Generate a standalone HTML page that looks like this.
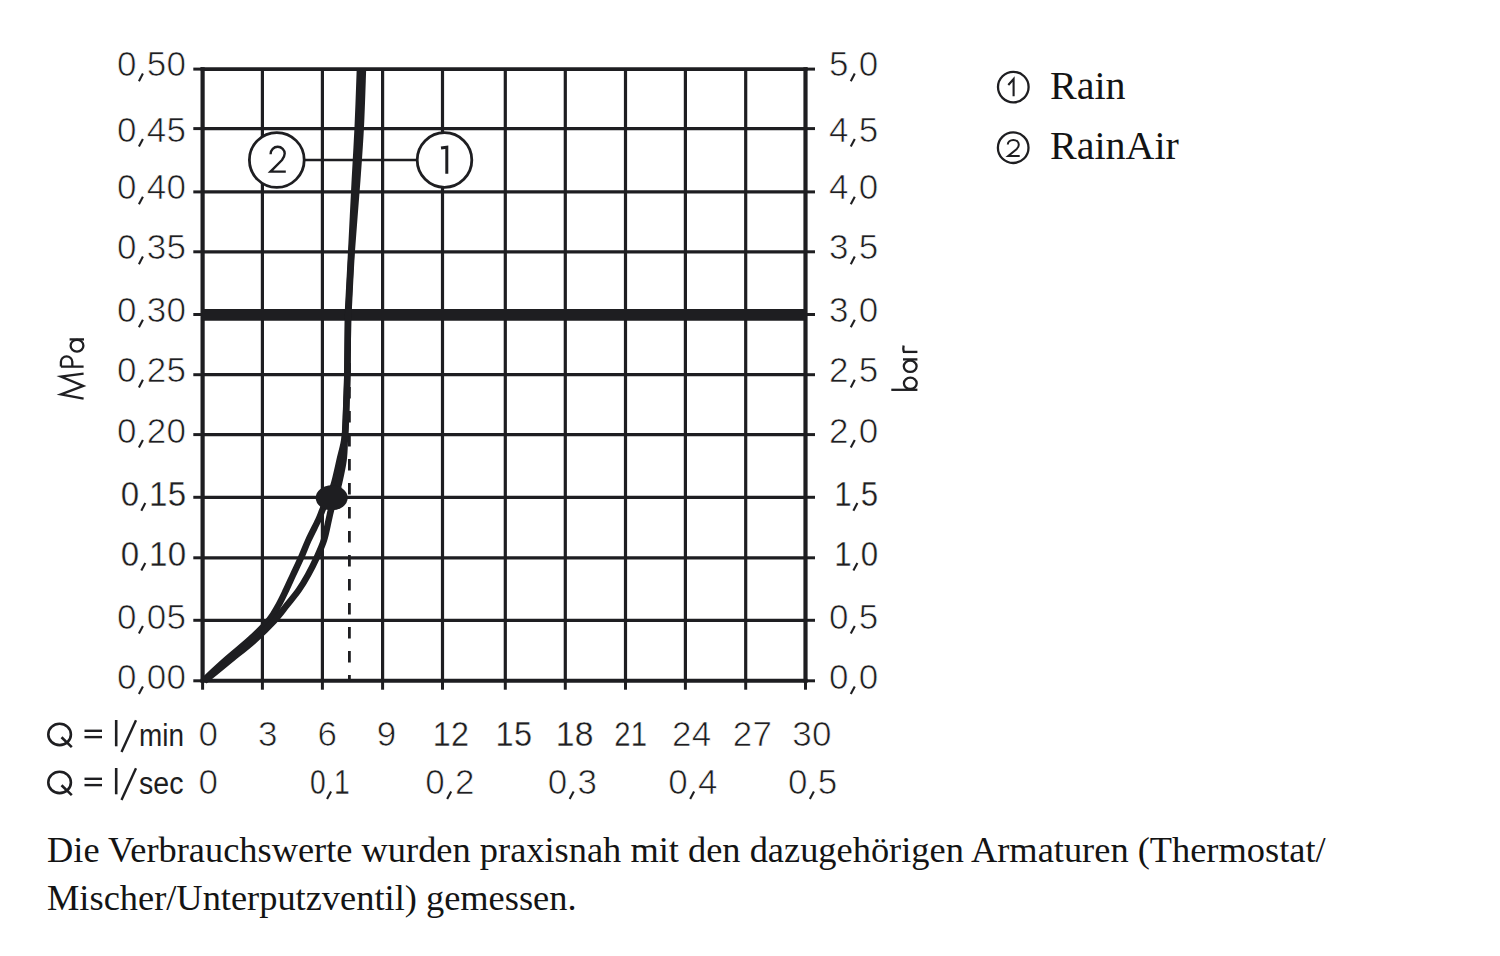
<!DOCTYPE html>
<html><head><meta charset="utf-8"><style>
html,body{margin:0;padding:0;background:#fff;width:1500px;height:956px;overflow:hidden}
svg{display:block}
.s{font-family:"Liberation Sans",sans-serif;fill:#1e1e21;stroke:#fff;stroke-width:0.7px;letter-spacing:0.3px}
.s2{font-family:"Liberation Sans",sans-serif;fill:#1e1e21}
.cm{fill:none;stroke:none}
.r{font-family:"Liberation Serif",serif;fill:#141414}
</style></head><body>
<svg width="1500" height="956" viewBox="0 0 1500 956">
<line x1="262.4" y1="69.1" x2="262.4" y2="680.8" stroke="#1e1e21" stroke-width="3.2"/>
<line x1="322.4" y1="69.1" x2="322.4" y2="680.8" stroke="#1e1e21" stroke-width="3.2"/>
<line x1="382.6" y1="69.1" x2="382.6" y2="680.8" stroke="#1e1e21" stroke-width="3.2"/>
<line x1="442.5" y1="69.1" x2="442.5" y2="680.8" stroke="#1e1e21" stroke-width="3.2"/>
<line x1="505.3" y1="69.1" x2="505.3" y2="680.8" stroke="#1e1e21" stroke-width="3.2"/>
<line x1="565.3" y1="69.1" x2="565.3" y2="680.8" stroke="#1e1e21" stroke-width="3.2"/>
<line x1="625.5" y1="69.1" x2="625.5" y2="680.8" stroke="#1e1e21" stroke-width="3.2"/>
<line x1="685.4" y1="69.1" x2="685.4" y2="680.8" stroke="#1e1e21" stroke-width="3.2"/>
<line x1="745.7" y1="69.1" x2="745.7" y2="680.8" stroke="#1e1e21" stroke-width="3.2"/>
<line x1="202.6" y1="128.6" x2="805.5" y2="128.6" stroke="#1e1e21" stroke-width="3.2"/>
<line x1="202.6" y1="191.9" x2="805.5" y2="191.9" stroke="#1e1e21" stroke-width="3.2"/>
<line x1="202.6" y1="251.8" x2="805.5" y2="251.8" stroke="#1e1e21" stroke-width="3.2"/>
<line x1="202.6" y1="374.7" x2="805.5" y2="374.7" stroke="#1e1e21" stroke-width="3.2"/>
<line x1="202.6" y1="434.6" x2="805.5" y2="434.6" stroke="#1e1e21" stroke-width="3.2"/>
<line x1="202.6" y1="497.3" x2="805.5" y2="497.3" stroke="#1e1e21" stroke-width="3.2"/>
<line x1="202.6" y1="557.8" x2="805.5" y2="557.8" stroke="#1e1e21" stroke-width="3.2"/>
<line x1="202.6" y1="620.3" x2="805.5" y2="620.3" stroke="#1e1e21" stroke-width="3.2"/>
<line x1="193.3" y1="69.1" x2="202.6" y2="69.1" stroke="#1e1e21" stroke-width="3"/>
<line x1="805.5" y1="69.1" x2="815" y2="69.1" stroke="#1e1e21" stroke-width="3"/>
<line x1="193.3" y1="128.6" x2="202.6" y2="128.6" stroke="#1e1e21" stroke-width="3"/>
<line x1="805.5" y1="128.6" x2="815" y2="128.6" stroke="#1e1e21" stroke-width="3"/>
<line x1="193.3" y1="191.9" x2="202.6" y2="191.9" stroke="#1e1e21" stroke-width="3"/>
<line x1="805.5" y1="191.9" x2="815" y2="191.9" stroke="#1e1e21" stroke-width="3"/>
<line x1="193.3" y1="251.8" x2="202.6" y2="251.8" stroke="#1e1e21" stroke-width="3"/>
<line x1="805.5" y1="251.8" x2="815" y2="251.8" stroke="#1e1e21" stroke-width="3"/>
<line x1="193.3" y1="314.5" x2="202.6" y2="314.5" stroke="#1e1e21" stroke-width="3"/>
<line x1="805.5" y1="314.5" x2="815" y2="314.5" stroke="#1e1e21" stroke-width="3"/>
<line x1="193.3" y1="374.7" x2="202.6" y2="374.7" stroke="#1e1e21" stroke-width="3"/>
<line x1="805.5" y1="374.7" x2="815" y2="374.7" stroke="#1e1e21" stroke-width="3"/>
<line x1="193.3" y1="434.6" x2="202.6" y2="434.6" stroke="#1e1e21" stroke-width="3"/>
<line x1="805.5" y1="434.6" x2="815" y2="434.6" stroke="#1e1e21" stroke-width="3"/>
<line x1="193.3" y1="497.3" x2="202.6" y2="497.3" stroke="#1e1e21" stroke-width="3"/>
<line x1="805.5" y1="497.3" x2="815" y2="497.3" stroke="#1e1e21" stroke-width="3"/>
<line x1="193.3" y1="557.8" x2="202.6" y2="557.8" stroke="#1e1e21" stroke-width="3"/>
<line x1="805.5" y1="557.8" x2="815" y2="557.8" stroke="#1e1e21" stroke-width="3"/>
<line x1="193.3" y1="620.3" x2="202.6" y2="620.3" stroke="#1e1e21" stroke-width="3"/>
<line x1="805.5" y1="620.3" x2="815" y2="620.3" stroke="#1e1e21" stroke-width="3"/>
<line x1="193.3" y1="680.8" x2="202.6" y2="680.8" stroke="#1e1e21" stroke-width="3"/>
<line x1="805.5" y1="680.8" x2="815" y2="680.8" stroke="#1e1e21" stroke-width="3"/>
<line x1="202.6" y1="680.8" x2="202.6" y2="689.7" stroke="#1e1e21" stroke-width="3"/>
<line x1="262.4" y1="680.8" x2="262.4" y2="689.7" stroke="#1e1e21" stroke-width="3"/>
<line x1="322.4" y1="680.8" x2="322.4" y2="689.7" stroke="#1e1e21" stroke-width="3"/>
<line x1="382.6" y1="680.8" x2="382.6" y2="689.7" stroke="#1e1e21" stroke-width="3"/>
<line x1="442.5" y1="680.8" x2="442.5" y2="689.7" stroke="#1e1e21" stroke-width="3"/>
<line x1="505.3" y1="680.8" x2="505.3" y2="689.7" stroke="#1e1e21" stroke-width="3"/>
<line x1="565.3" y1="680.8" x2="565.3" y2="689.7" stroke="#1e1e21" stroke-width="3"/>
<line x1="625.5" y1="680.8" x2="625.5" y2="689.7" stroke="#1e1e21" stroke-width="3"/>
<line x1="685.4" y1="680.8" x2="685.4" y2="689.7" stroke="#1e1e21" stroke-width="3"/>
<line x1="745.7" y1="680.8" x2="745.7" y2="689.7" stroke="#1e1e21" stroke-width="3"/>
<line x1="805.5" y1="680.8" x2="805.5" y2="689.7" stroke="#1e1e21" stroke-width="3"/>
<line x1="200.6" y1="69.1" x2="807.5" y2="69.1" stroke="#1e1e21" stroke-width="3.8"/>
<line x1="200.6" y1="680.8" x2="807.5" y2="680.8" stroke="#1e1e21" stroke-width="4"/>
<line x1="202.6" y1="67.3" x2="202.6" y2="682.5999999999999" stroke="#1e1e21" stroke-width="4.2"/>
<line x1="805.5" y1="67.3" x2="805.5" y2="682.5999999999999" stroke="#1e1e21" stroke-width="4.2"/>
<line x1="202.6" y1="314.8" x2="805.5" y2="314.8" stroke="#1e1e21" stroke-width="11.7"/>
<line x1="349.4" y1="315" x2="349.4" y2="681" stroke="#1e1e21" stroke-width="2.8" stroke-dasharray="11.5 12.5"/>
<line x1="304" y1="160" x2="417" y2="160" stroke="#1e1e21" stroke-width="2.5"/>
<circle cx="276.8" cy="160" r="27.4" fill="#fff" stroke="#1e1e21" stroke-width="2.8"/>
<circle cx="444.5" cy="160" r="27.3" fill="#fff" stroke="#1e1e21" stroke-width="2.8"/>
<path d="M270.6,154.2 C270.6,149.6 273.9,146.8 277.7,146.8 C281.7,146.8 284.7,149.8 284.7,153.6 C284.7,156.2 283.5,158 282,160 L270.5,171.6 L285.8,171.6" fill="none" stroke="#1e1e21" stroke-width="2.4" stroke-linejoin="miter"/>
<path d="M441,148 L446.8,147.2 L446.8,173.8" fill="none" stroke="#1e1e21" stroke-width="3" stroke-linejoin="miter"/>
<path d="M359.95,69.00 C359.58,78.67 358.60,108.50 357.75,127.00 C356.90,145.50 355.93,159.33 354.85,180.00 C353.77,200.67 352.35,229.83 351.25,251.00 C350.15,272.17 348.79,295.50 348.25,307.00 C347.71,318.50 348.16,308.67 348.00,320.00 C347.84,331.33 347.55,361.67 347.30,375.00 C347.05,388.33 346.88,390.00 346.50,400.00 C346.12,410.00 346.14,425.00 345.00,435.00 C343.86,445.00 341.54,451.67 339.65,460.00 C337.76,468.33 335.59,478.75 333.65,485.00 C331.71,491.25 329.88,493.33 328.00,497.50 C326.12,501.67 324.02,506.25 322.40,510.00 C320.78,513.75 320.62,515.00 318.30,520.00 C315.98,525.00 311.38,533.70 308.50,540.00 C305.62,546.30 303.58,551.97 301.00,557.80 C298.42,563.63 295.48,569.63 293.00,575.00 C290.52,580.37 288.50,585.00 286.10,590.00 C283.70,595.00 281.37,600.08 278.60,605.00 C275.83,609.92 274.18,613.83 269.50,619.50 C264.82,625.17 257.67,632.33 250.50,639.00 C243.33,645.67 234.33,652.58 226.50,659.50 C218.67,666.42 207.33,677.00 203.50,680.50" fill="none" stroke="#1e1e21" stroke-width="6.5" stroke-linecap="butt" stroke-linejoin="round"/>
<path d="M362.95,69.00 C362.58,78.67 361.70,108.50 360.75,127.00 C359.80,145.50 358.75,159.33 357.25,180.00 C355.75,200.67 353.17,229.83 351.75,251.00 C350.33,272.17 349.38,295.50 348.75,307.00 C348.12,318.50 348.24,308.67 348.00,320.00 C347.76,331.33 347.55,361.67 347.30,375.00 C347.05,388.33 346.88,390.00 346.50,400.00 C346.12,410.00 345.49,425.00 345.00,435.00 C344.51,445.00 344.62,451.67 343.55,460.00 C342.48,468.33 339.98,478.75 338.55,485.00 C337.12,491.25 336.26,493.33 335.00,497.50 C333.74,501.67 332.05,506.25 331.00,510.00 C329.95,513.75 329.87,515.00 328.70,520.00 C327.53,525.00 326.02,533.70 324.00,540.00 C321.98,546.30 319.27,551.97 316.60,557.80 C313.93,563.63 310.97,569.63 308.00,575.00 C305.03,580.37 302.30,585.00 298.80,590.00 C295.30,595.00 291.13,599.83 287.00,605.00 C282.87,610.17 279.58,615.00 274.00,621.00 C268.42,627.00 261.00,634.33 253.50,641.00 C246.00,647.67 237.17,654.33 229.00,661.00 C220.83,667.67 208.58,677.67 204.50,681.00" fill="none" stroke="#1e1e21" stroke-width="6.5" stroke-linecap="butt" stroke-linejoin="round"/>
<ellipse cx="331.7" cy="497.8" rx="16" ry="12.5" fill="#1e1e21"/>
<text x="186.4" y="76.2" font-size="35" text-anchor="end" class="s">0<tspan class="cm">,</tspan>50</text>
<text x="186.4" y="141.6" font-size="35" text-anchor="end" class="s">0<tspan class="cm">,</tspan>45</text>
<text x="186.4" y="199.3" font-size="35" text-anchor="end" class="s">0<tspan class="cm">,</tspan>40</text>
<text x="186.4" y="259.2" font-size="35" text-anchor="end" class="s">0<tspan class="cm">,</tspan>35</text>
<text x="186.4" y="322.3" font-size="35" text-anchor="end" class="s">0<tspan class="cm">,</tspan>30</text>
<text x="186.4" y="382.4" font-size="35" text-anchor="end" class="s">0<tspan class="cm">,</tspan>25</text>
<text x="186.4" y="442.6" font-size="35" text-anchor="end" class="s">0<tspan class="cm">,</tspan>20</text>
<text x="186.4" y="505.7" font-size="35" text-anchor="end" class="s" textLength="65.6" lengthAdjust="spacingAndGlyphs" style="stroke-width:0.35px">0<tspan class="cm">,</tspan>15</text>
<text x="186.4" y="565.5" font-size="35" text-anchor="end" class="s" textLength="65.6" lengthAdjust="spacingAndGlyphs" style="stroke-width:0.35px">0<tspan class="cm">,</tspan>10</text>
<text x="186.4" y="628.6" font-size="35" text-anchor="end" class="s">0<tspan class="cm">,</tspan>05</text>
<text x="186.4" y="689.1" font-size="35" text-anchor="end" class="s">0<tspan class="cm">,</tspan>00</text>
<text x="878.5" y="76.2" font-size="35" text-anchor="end" class="s">5<tspan class="cm">,</tspan>0</text>
<text x="878.5" y="141.6" font-size="35" text-anchor="end" class="s">4<tspan class="cm">,</tspan>5</text>
<text x="878.5" y="199.3" font-size="35" text-anchor="end" class="s">4<tspan class="cm">,</tspan>0</text>
<text x="878.5" y="259.2" font-size="35" text-anchor="end" class="s">3<tspan class="cm">,</tspan>5</text>
<text x="878.5" y="322.3" font-size="35" text-anchor="end" class="s">3<tspan class="cm">,</tspan>0</text>
<text x="878.5" y="382.4" font-size="35" text-anchor="end" class="s">2<tspan class="cm">,</tspan>5</text>
<text x="878.5" y="442.6" font-size="35" text-anchor="end" class="s">2<tspan class="cm">,</tspan>0</text>
<text x="878.5" y="505.7" font-size="35" text-anchor="end" class="s" textLength="44.3" lengthAdjust="spacingAndGlyphs" style="stroke-width:0.35px">1<tspan class="cm">,</tspan>5</text>
<text x="878.5" y="565.5" font-size="35" text-anchor="end" class="s" textLength="44.3" lengthAdjust="spacingAndGlyphs" style="stroke-width:0.35px">1<tspan class="cm">,</tspan>0</text>
<text x="878.5" y="628.6" font-size="35" text-anchor="end" class="s">0<tspan class="cm">,</tspan>5</text>
<text x="878.5" y="689.1" font-size="35" text-anchor="end" class="s">0<tspan class="cm">,</tspan>0</text>
<path d="M83.6,398.6 L60.9,394.4 L83.3,385.9 L60.9,376.5 L83.6,373.6" fill="none" stroke="#1e1e21" stroke-width="2.3" stroke-linejoin="miter"/>
<path d="M83.6,366.6 L60.9,366.6 M60.9,366.6 L60.9,361.8 A5.7,5.4 0 0 1 72.3,361.8 L72.3,366.6" fill="none" stroke="#1e1e21" stroke-width="2.3"/>
<ellipse cx="77" cy="345.7" rx="6.4" ry="5.9" fill="none" stroke="#1e1e21" stroke-width="2.3"/>
<line x1="69.6" y1="339.4" x2="84" y2="339.4" fill="none" stroke="#1e1e21" stroke-width="2.3"/>
<line x1="891.3" y1="389.8" x2="917.4" y2="389.8" fill="none" stroke="#1e1e21" stroke-width="2.3"/>
<ellipse cx="910.3" cy="383.3" rx="6.4" ry="5.6" fill="none" stroke="#1e1e21" stroke-width="2.3"/>
<ellipse cx="910.2" cy="366.3" rx="6.4" ry="5.6" fill="none" stroke="#1e1e21" stroke-width="2.3"/>
<line x1="903" y1="359.4" x2="917.4" y2="359.4" fill="none" stroke="#1e1e21" stroke-width="2.3"/>
<line x1="903" y1="351.9" x2="917.4" y2="351.9" fill="none" stroke="#1e1e21" stroke-width="2.3"/>
<path d="M903.8,351.9 C903.2,349.5 903.2,347.5 903.6,345.6" fill="none" stroke="#1e1e21" stroke-width="2.3"/>
<ellipse cx="59.6" cy="734.4" rx="11.3" ry="10.7" fill="none" stroke="#1e1e21" stroke-width="2.6"/>
<line x1="61.5" y1="737.3" x2="71.8" y2="747.0999999999999" stroke="#1e1e21" stroke-width="2.6"/>
<line x1="84.5" y1="730.8" x2="102" y2="730.8" stroke="#1e1e21" stroke-width="2.4"/>
<line x1="84.5" y1="737.0999999999999" x2="102" y2="737.0999999999999" stroke="#1e1e21" stroke-width="2.4"/>
<line x1="116.2" y1="720.0" x2="116.2" y2="746.3" stroke="#1e1e21" stroke-width="2.6"/>
<line x1="136" y1="720.3" x2="121.5" y2="752.0999999999999" stroke="#1e1e21" stroke-width="2.4"/>
<ellipse cx="59.6" cy="782.4" rx="11.3" ry="10.7" fill="none" stroke="#1e1e21" stroke-width="2.6"/>
<line x1="61.5" y1="785.3" x2="71.8" y2="795.0999999999999" stroke="#1e1e21" stroke-width="2.6"/>
<line x1="84.5" y1="778.8" x2="102" y2="778.8" stroke="#1e1e21" stroke-width="2.4"/>
<line x1="84.5" y1="785.0999999999999" x2="102" y2="785.0999999999999" stroke="#1e1e21" stroke-width="2.4"/>
<line x1="116.2" y1="768.0" x2="116.2" y2="794.3" stroke="#1e1e21" stroke-width="2.6"/>
<line x1="136" y1="768.3" x2="121.5" y2="800.0999999999999" stroke="#1e1e21" stroke-width="2.4"/>
<text x="139" y="746.3" font-size="31" class="s2" textLength="45" lengthAdjust="spacingAndGlyphs">min</text>
<text x="139" y="794.3" font-size="31" class="s2" textLength="44.5" lengthAdjust="spacingAndGlyphs">sec</text>
<text x="208.4" y="745.6" font-size="35" text-anchor="middle" class="s">0</text>
<text x="268.0" y="745.6" font-size="35" text-anchor="middle" class="s">3</text>
<text x="327.4" y="745.6" font-size="35" text-anchor="middle" class="s">6</text>
<text x="386.6" y="745.6" font-size="35" text-anchor="middle" class="s">9</text>
<text x="450.9" y="745.6" font-size="35" text-anchor="middle" class="s" textLength="36.5" lengthAdjust="spacingAndGlyphs" style="stroke-width:0.35px">12</text>
<text x="513.9" y="745.6" font-size="35" text-anchor="middle" class="s" textLength="36.7" lengthAdjust="spacingAndGlyphs" style="stroke-width:0.35px">15</text>
<text x="574.8" y="745.6" font-size="35" text-anchor="middle" class="s" textLength="38.1" lengthAdjust="spacingAndGlyphs" style="stroke-width:0.35px">18</text>
<text x="630.7" y="745.6" font-size="35" text-anchor="middle" class="s" textLength="33.1" lengthAdjust="spacingAndGlyphs" style="stroke-width:0.35px">21</text>
<text x="691.7" y="745.6" font-size="35" text-anchor="middle" class="s">24</text>
<text x="752.6" y="745.6" font-size="35" text-anchor="middle" class="s">27</text>
<text x="812.0" y="745.6" font-size="35" text-anchor="middle" class="s">30</text>
<text x="208.4" y="794" font-size="35" text-anchor="middle" class="s">0</text>
<text x="330.0" y="794" font-size="35" text-anchor="middle" class="s" textLength="40" lengthAdjust="spacingAndGlyphs" style="stroke-width:0.35px">0<tspan class="cm">,</tspan>1</text>
<text x="450.1" y="794" font-size="35" text-anchor="middle" class="s">0<tspan class="cm">,</tspan>2</text>
<text x="572.6" y="794" font-size="35" text-anchor="middle" class="s">0<tspan class="cm">,</tspan>3</text>
<text x="693.1" y="794" font-size="35" text-anchor="middle" class="s">0<tspan class="cm">,</tspan>4</text>
<text x="812.8" y="794" font-size="35" text-anchor="middle" class="s">0<tspan class="cm">,</tspan>5</text>
<circle cx="1013.3" cy="87.1" r="15.3" fill="none" stroke="#1e1e21" stroke-width="2.3"/>
<circle cx="1013.2" cy="147.7" r="15.3" fill="none" stroke="#1e1e21" stroke-width="2.3"/>
<path d="M1008.3,85 L1013.6,79 L1013.6,96.3" fill="none" stroke="#1e1e21" stroke-width="2.1" stroke-linejoin="miter"/>
<path d="M1007.8,144.6 C1007.8,141.8 1010.3,139.9 1013.3,139.9 C1016.5,139.9 1018.8,142 1018.8,144.7 C1018.8,146.5 1018,147.6 1016.8,148.9 L1008.2,156 L1019.7,156" fill="none" stroke="#1e1e21" stroke-width="2" stroke-linejoin="miter"/>
<text x="1050" y="99.3" font-size="40" class="r">Rain</text>
<text x="1050" y="159.3" font-size="40" class="r">RainAir</text>
<text x="47" y="862.3" font-size="36.4" class="r">Die Verbrauchswerte wurden praxisnah mit den dazugehörigen Armaturen (Thermostat/</text>
<text x="47" y="910.3" font-size="36.4" class="r">Mischer/Unterputzventil) gemessen.</text>
<line x1="138.90" y1="81.20" x2="142.90" y2="73.60" stroke="#1e1e21" stroke-width="2.1"/>
<line x1="138.90" y1="146.60" x2="142.90" y2="139.00" stroke="#1e1e21" stroke-width="2.1"/>
<line x1="138.90" y1="204.30" x2="142.90" y2="196.70" stroke="#1e1e21" stroke-width="2.1"/>
<line x1="138.90" y1="264.20" x2="142.90" y2="256.60" stroke="#1e1e21" stroke-width="2.1"/>
<line x1="138.90" y1="327.30" x2="142.90" y2="319.70" stroke="#1e1e21" stroke-width="2.1"/>
<line x1="138.90" y1="387.40" x2="142.90" y2="379.80" stroke="#1e1e21" stroke-width="2.1"/>
<line x1="138.90" y1="447.60" x2="142.90" y2="440.00" stroke="#1e1e21" stroke-width="2.1"/>
<line x1="141.30" y1="510.70" x2="145.30" y2="503.10" stroke="#1e1e21" stroke-width="2.1"/>
<line x1="141.30" y1="570.50" x2="145.30" y2="562.90" stroke="#1e1e21" stroke-width="2.1"/>
<line x1="138.90" y1="633.60" x2="142.90" y2="626.00" stroke="#1e1e21" stroke-width="2.1"/>
<line x1="138.90" y1="694.10" x2="142.90" y2="686.50" stroke="#1e1e21" stroke-width="2.1"/>
<line x1="850.77" y1="81.20" x2="854.77" y2="73.60" stroke="#1e1e21" stroke-width="2.1"/>
<line x1="850.77" y1="146.60" x2="854.77" y2="139.00" stroke="#1e1e21" stroke-width="2.1"/>
<line x1="850.77" y1="204.30" x2="854.77" y2="196.70" stroke="#1e1e21" stroke-width="2.1"/>
<line x1="850.77" y1="264.20" x2="854.77" y2="256.60" stroke="#1e1e21" stroke-width="2.1"/>
<line x1="850.77" y1="327.30" x2="854.77" y2="319.70" stroke="#1e1e21" stroke-width="2.1"/>
<line x1="850.77" y1="387.40" x2="854.77" y2="379.80" stroke="#1e1e21" stroke-width="2.1"/>
<line x1="850.77" y1="447.60" x2="854.77" y2="440.00" stroke="#1e1e21" stroke-width="2.1"/>
<line x1="853.40" y1="510.70" x2="857.40" y2="503.10" stroke="#1e1e21" stroke-width="2.1"/>
<line x1="853.40" y1="570.50" x2="857.40" y2="562.90" stroke="#1e1e21" stroke-width="2.1"/>
<line x1="850.77" y1="633.60" x2="854.77" y2="626.00" stroke="#1e1e21" stroke-width="2.1"/>
<line x1="850.77" y1="694.10" x2="854.77" y2="686.50" stroke="#1e1e21" stroke-width="2.1"/>
<line x1="327.05" y1="799.00" x2="331.05" y2="791.40" stroke="#1e1e21" stroke-width="2.1"/>
<line x1="447.15" y1="799.00" x2="451.15" y2="791.40" stroke="#1e1e21" stroke-width="2.1"/>
<line x1="569.65" y1="799.00" x2="573.65" y2="791.40" stroke="#1e1e21" stroke-width="2.1"/>
<line x1="690.15" y1="799.00" x2="694.15" y2="791.40" stroke="#1e1e21" stroke-width="2.1"/>
<line x1="809.85" y1="799.00" x2="813.85" y2="791.40" stroke="#1e1e21" stroke-width="2.1"/>
</svg>
</body></html>
